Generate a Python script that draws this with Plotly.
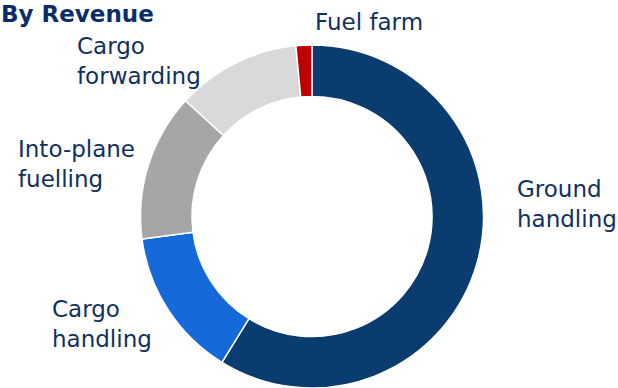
import plotly.graph_objects as go

# Revenue split by business line (share of total, %)
segments = ["Ground handling", "Cargo handling", "Into-plane fuelling",
            "Cargo forwarding", "Fuel farm"]
shares = [58.8, 14.1, 13.9, 11.7, 1.5]
colors = ["#0B3C6F", "#1569D9", "#A6A6A6", "#D9D9D9", "#C00000"]

# Label text (two lines where wrapped) and anchor point in pixels (left, centre)
label_text = ["Ground<br>handling", "Cargo<br>handling", "Into-plane<br>fuelling",
              "Cargo<br>forwarding", "Fuel farm"]
label_px = [(515, 204), (50, 324), (16, 164), (75, 61), (313, 22)]

W, H = 618, 388
TEXT = "#10305F"

fig = go.Figure(go.Pie(
    labels=segments,
    values=shares,
    hole=0.70,
    sort=False,
    direction="clockwise",
    rotation=0,
    marker=dict(colors=colors, line=dict(color="white", width=1.5)),
    textinfo="none",
    hoverinfo="label+percent",
    domain=dict(x=[139 / W, 485 / W], y=[0, 0.884]),
    showlegend=False,
))

for txt, (px, py) in zip(label_text, label_px):
    fig.add_annotation(
        text=txt, x=px / W, y=1 - py / H, xref="paper", yref="paper",
        xanchor="left", yanchor="middle", align="left", showarrow=False,
        font=dict(family="DejaVu Sans", size=23, color=TEXT),
    )

fig.add_annotation(
    text="<b>By Revenue</b>", x=0, y=1, xref="paper", yref="paper",
    xanchor="left", yanchor="top", align="left", showarrow=False,
    borderpad=0,
    font=dict(family="DejaVu Sans", size=23, color="#0B2C6B"),
)

fig.update_layout(
    width=W, height=H,
    margin=dict(l=0, r=0, t=0, b=0),
    paper_bgcolor="white", plot_bgcolor="white",
)

fig.write_html("out.html")
